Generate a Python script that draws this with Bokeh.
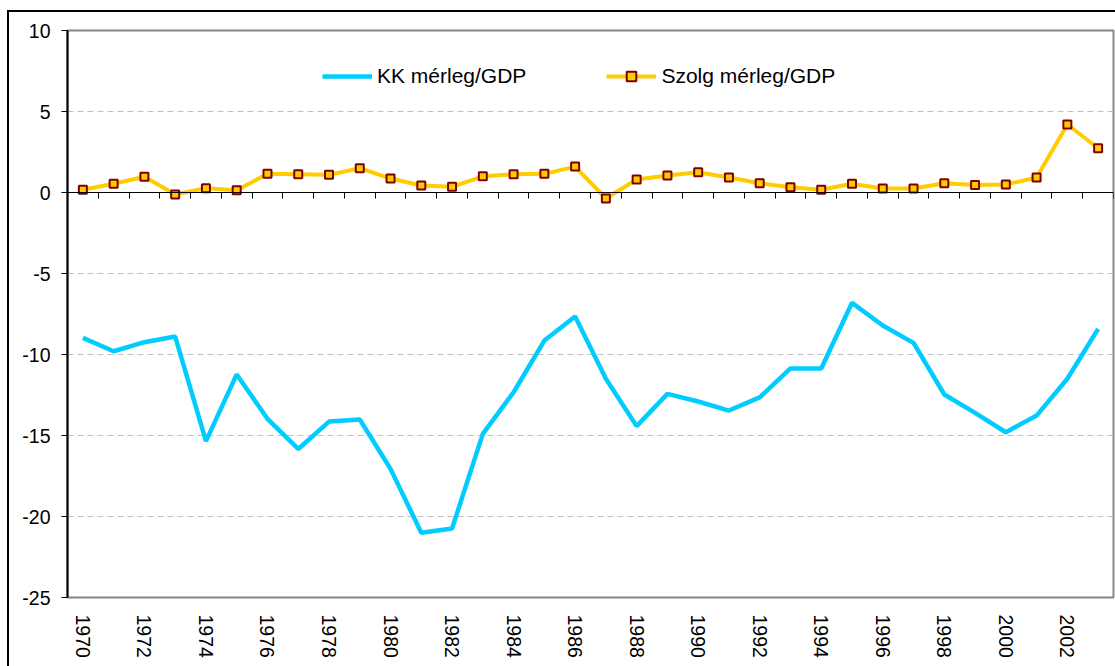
from bokeh.plotting import figure
from bokeh.models import (FixedTicker, LinearAxis, Legend, LegendItem,
                          Range1d, CustomJSTickFormatter)
from bokeh.embed import file_html
from bokeh.resources import INLINE

years = list(range(1970, 2004))
kk = [-8.97, -9.8, -9.24, -8.89, -15.35, -11.23, -13.97, -15.83, -14.14, -14.01,
      -17.06, -21.0, -20.74, -14.9, -12.33, -9.14, -7.65, -11.5, -14.42, -12.43,
      -12.9, -13.46, -12.65, -10.86, -10.86, -6.81, -8.21, -9.28, -12.47, -13.6,
      -14.8, -13.77, -11.5, -8.42]
szolg = [0.17, 0.54, 0.97, -0.12, 0.27, 0.14, 1.15, 1.13, 1.09, 1.5,
         0.86, 0.43, 0.35, 1.0, 1.13, 1.15, 1.6, -0.37, 0.8, 1.05,
         1.25, 0.93, 0.57, 0.33, 0.17, 0.54, 0.25, 0.25, 0.57, 0.47,
         0.49, 0.93, 4.2, 2.73]
y_ticks = [-25, -20, -15, -10, -5, 0, 5, 10]
label_years = years[::2]
series_names = ["KK mérleg/GDP", "Szolg mérleg/GDP"]

FONT = "Liberation Sans"

p = figure(width=1115, height=666, output_backend="svg", toolbar_location=None,
           x_range=Range1d(years[0] - 0.5, years[-1] + 0.5),
           y_range=Range1d(y_ticks[0], y_ticks[-1]),
           min_border_left=67, min_border_right=2, min_border_top=30,
           min_border_bottom=69)
p.background_fill_color = "white"
p.border_fill_color = None
p.outline_line_color = "#868686"
p.outline_line_width = 2
# outer chart-area border (black lines on the left and top edge)
p.styles = {
    "background": ("linear-gradient(#000, #000) 7px 10px / 2px 700px no-repeat, "
                   "linear-gradient(#000, #000) 7px 10px / 1200px 2px no-repeat, #fff"),
}

# y axis
p.yaxis.ticker = FixedTicker(ticks=y_ticks)
p.yaxis.formatter = CustomJSTickFormatter(code="return tick.toString()")
p.yaxis.axis_line_color = "black"
p.yaxis.axis_line_width = 2
p.yaxis.major_tick_out = 6
p.yaxis.major_tick_in = 0
p.yaxis.minor_tick_line_color = None
p.yaxis.major_tick_line_color = "black"
p.yaxis.major_label_standoff = 11
p.yaxis.major_label_text_font = FONT
p.yaxis.major_label_text_font_size = "19.5px"
p.yaxis.major_label_text_color = "black"

# bottom axis with year labels
p.xaxis.ticker = FixedTicker(ticks=label_years)
p.xaxis.axis_line_color = None
p.xaxis.major_tick_line_color = None
p.xaxis.minor_tick_line_color = None
p.xaxis.major_tick_out = 0
p.xaxis.major_tick_in = 0
p.xaxis.major_label_orientation = "vertical"
p.xaxis.major_label_standoff = 17
p.xaxis.major_label_text_font = FONT
p.xaxis.major_label_text_font_size = "19.5px"
p.xaxis.major_label_text_color = "black"

# zero-line axis with category boundary ticks
bounds = [y - 0.5 for y in years] + [years[-1] + 0.5]
zero_axis = LinearAxis(ticker=FixedTicker(ticks=bounds), fixed_location=0,
                       formatter=CustomJSTickFormatter(code="return ''"))
zero_axis.axis_line_color = "black"
zero_axis.axis_line_width = 1
zero_axis.major_tick_in = 6
zero_axis.major_tick_out = 0
zero_axis.major_tick_line_color = "black"
zero_axis.minor_tick_line_color = None
zero_axis.major_label_text_font_size = "0px"
zero_axis.major_label_standoff = 0
p.add_layout(zero_axis, "above")

p.xgrid.visible = False
p.ygrid.grid_line_color = "#c0c0c0"
p.ygrid.grid_line_dash = "6 4"
p.ygrid.grid_line_width = 1

l1 = p.line(years, kk, line_color="#00CCFF", line_width=4.5)
l2 = p.line(years, szolg, line_color="#FFCC00", line_width=4)
s2 = p.scatter(years, szolg, marker="square", size=8, fill_color="#FFCC00",
               line_color="#800000", line_width=2)

legend = Legend(items=[LegendItem(label=series_names[0], renderers=[l1]),
                       LegendItem(label=series_names[1], renderers=[l2, s2])],
                orientation="horizontal", location=(255, 509))
legend.border_line_color = None
legend.background_fill_alpha = 0
legend.padding = 0
legend.margin = 0
legend.spacing = 80
legend.glyph_width = 50
legend.glyph_height = 24
legend.label_height = 24
legend.label_standoff = 5
legend.label_text_font = FONT
legend.label_text_font_size = "21px"
legend.label_text_color = "black"
p.add_layout(legend)

open("out.html", "w").write(file_html(p, INLINE))
